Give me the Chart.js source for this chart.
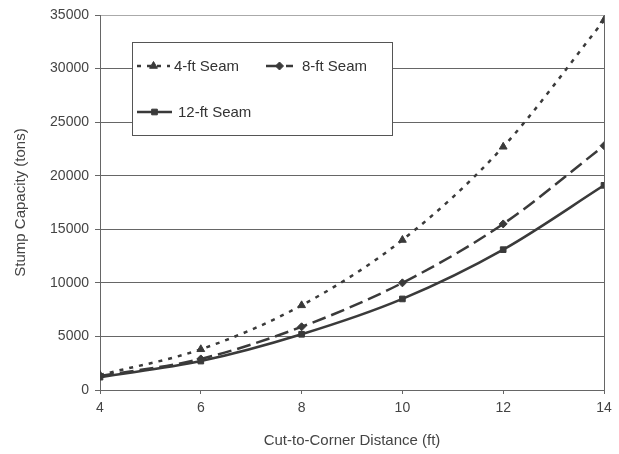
<!DOCTYPE html>
<html>
<head>
<meta charset="utf-8">
<script src="https://cdn.jsdelivr.net/npm/chart.js@4"></script>
<style>
  html, body { margin: 0; padding: 0; background: #fff; }
  #wrap { width: 619px; height: 454px; }
</style>
</head>
<body>
<div id="wrap"><canvas id="chart" width="619" height="454"></canvas></div>
<script>
const distances = [4, 6, 8, 10, 12, 14];
const seam4 = [1400, 3800, 7900, 14000, 22700, 34500];
const seam8 = [1300, 2900, 5900, 10000, 15500, 22800];
const seam12 = [1200, 2700, 5200, 8500, 13100, 19100];
const seriesNames = ['4-ft Seam', '8-ft Seam', '12-ft Seam'];
const xTitle = 'Cut-to-Corner Distance (ft)';
const yTitle = 'Stump Capacity (tons)';

const ink = '#3a3a3a';
const fontFam = '"Liberation Sans", Arial, sans-serif';

function toPoints(values) {
    return distances.map((d, i) => ({ x: d, y: values[i] }));
}

function makeSet(label, values, dash, marker, size) {
    return {
        label: label,
        data: toPoints(values),
        borderColor: ink,
        backgroundColor: ink,
        borderWidth: 2.5,
        borderDash: dash,
        pointStyle: marker,
        pointRadius: size,
        pointBorderWidth: 1,
        pointBorderColor: ink,
        pointBackgroundColor: ink,
        cubicInterpolationMode: 'monotone',
        fill: false
    };
}

// legend drawn inside the plot, laid out like the original
const boxLegend = {
    id: 'boxLegend',
    afterDraw(chart) {
        const ctx = chart.ctx;
        const bx = 132, by = 42, bw = 260, bh = 93;
        ctx.save();
        ctx.fillStyle = '#fff';
        ctx.fillRect(bx, by, bw, bh);
        ctx.strokeStyle = '#555';
        ctx.lineWidth = 1;
        ctx.strokeRect(bx + 0.5, by + 0.5, bw, bh);

        const spots = [
            { x0: 137, x1: 170, y: 66, tx: 174 },
            { x0: 266, x1: 293, y: 66, tx: 302 },
            { x0: 137, x1: 172, y: 112, tx: 178 }
        ];
        chart.data.datasets.forEach((ds, i) => {
            const s = spots[i];
            ctx.strokeStyle = ds.borderColor;
            ctx.lineWidth = ds.borderWidth;
            ctx.setLineDash(ds.borderDash || []);
            ctx.beginPath();
            ctx.moveTo(s.x0, s.y);
            ctx.lineTo(s.x1, s.y);
            ctx.stroke();
            ctx.setLineDash([]);
            ctx.fillStyle = ds.pointBackgroundColor;
            ctx.strokeStyle = ds.pointBorderColor;
            ctx.lineWidth = 1;
            Chart.helpers.drawPoint(ctx, {
                pointStyle: ds.pointStyle,
                radius: ds.pointRadius,
                borderWidth: 1,
                rotation: 0
            }, (s.x0 + s.x1) / 2, s.y);
            ctx.fillStyle = '#333';
            ctx.font = '15px ' + fontFam;
            ctx.textBaseline = 'middle';
            ctx.textAlign = 'left';
            ctx.fillText(ds.label, s.tx, s.y + 1);
        });
        ctx.restore();
    }
};

const chart = new Chart(document.getElementById('chart'), {
    type: 'line',
    data: {
        datasets: [
            makeSet(seriesNames[0], seam4, [4, 6], 'triangle', 4.5),
            makeSet(seriesNames[1], seam8, [14, 6], 'rectRot', 4),
            makeSet(seriesNames[2], seam12, [], 'rect', 4)
        ]
    },
    options: {
        responsive: false,
        animation: false,
        layout: { padding: { left: 8, top: 15, right: 15, bottom: 0 } },
        plugins: {
            legend: { display: false },
            tooltip: { enabled: false }
        },
        scales: {
            x: {
                type: 'linear',
                min: 4,
                max: 14,
                afterFit: (scale) => { scale.height = 64; },
                ticks: {
                    stepSize: 2,
                    color: '#444',
                    padding: 6,
                    font: { family: fontFam, size: 14 }
                },
                grid: {
                    color: (c) => (c.tick && c.tick.value === 14 ? '#666' : 'rgba(0,0,0,0)'),
                    tickColor: '#666',
                    tickLength: 4,
                    lineWidth: 1
                },
                border: { color: '#666', width: 1 },
                title: {
                    display: true,
                    text: xTitle,
                    color: '#444',
                    padding: { top: 2 },
                    font: { family: fontFam, size: 15 }
                }
            },
            y: {
                min: 0,
                max: 35000,
                afterFit: (scale) => { scale.width = 92; },
                ticks: {
                    stepSize: 5000,
                    color: '#444',
                    padding: 6,
                    callback: (v) => String(v),
                    font: { family: fontFam, size: 14 }
                },
                grid: {
                    color: (c) => (c.tick && c.tick.value === 35000 ? '#aaa' : '#666'),
                    tickColor: '#666',
                    tickLength: 5,
                    lineWidth: 1
                },
                border: { color: '#666', width: 1 },
                title: {
                    display: true,
                    text: yTitle,
                    color: '#444',
                    padding: { bottom: 2 },
                    font: { family: fontFam, size: 15 }
                }
            }
        }
    },
    plugins: [boxLegend]
});
</script>
</body>
</html>
